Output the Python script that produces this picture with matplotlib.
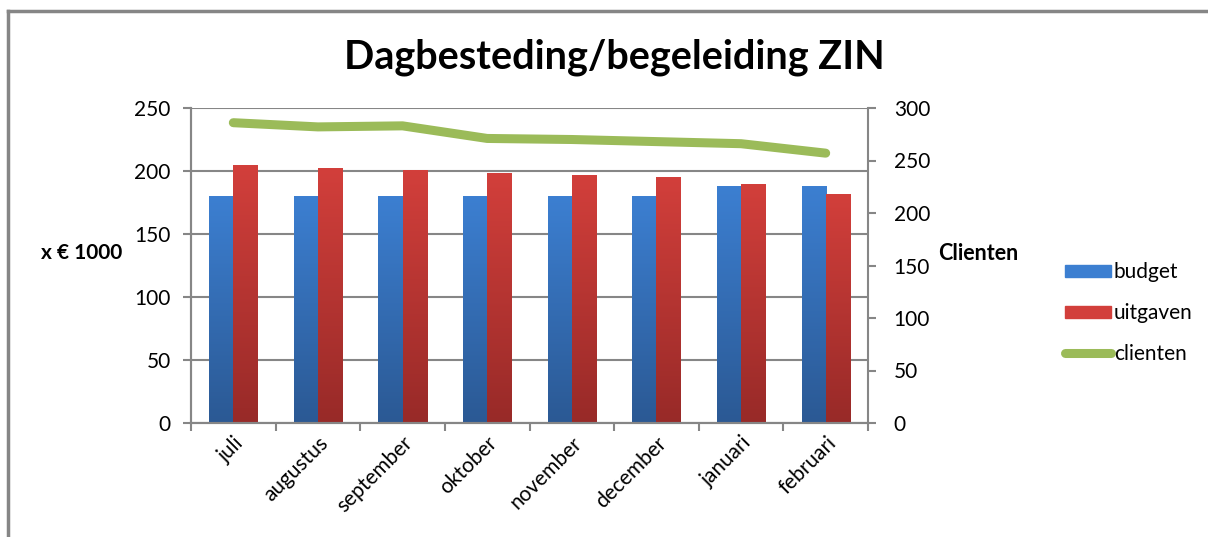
import matplotlib
matplotlib.use('Agg')
import matplotlib.pyplot as plt
from matplotlib.lines import Line2D
from matplotlib.colors import LinearSegmentedColormap
import numpy as np

plt.rcParams['font.family'] = ['Lato', 'DejaVu Sans']

# data
maanden = ['juli', 'augustus', 'september', 'oktober', 'november',
           'december', 'januari', 'februari']
budget = [180, 180, 180, 180, 180, 180, 188, 188]
uitgaven = [204, 202, 200.5, 198, 196.5, 194.5, 189, 181.5]
clienten = [286, 282, 283, 271, 270, 268, 266, 257]

grey = '#868686'
blue_top, blue_bot = '#3c7fd1', '#2b5994'
red_top, red_bot = '#d23f3b', '#982a28'

fig = plt.figure(figsize=(12.08, 5.37), dpi=100)
ax = fig.add_axes([191/1208, 1 - 423/537, 677/1208, 315/537])
ax2 = ax.twinx()

x = np.arange(len(maanden))
w = 0.285

def gradient_bars(xpos, vals, top, bot, label):
    bars = ax.bar(xpos, vals, w, color=top, label=label, zorder=2)
    cmap = LinearSegmentedColormap.from_list('g', [bot, top])
    grad = np.linspace(0, 1, 100).reshape(-1, 1)
    for b in bars:
        x0, y0 = b.get_x(), b.get_y()
        ax.imshow(grad, cmap=cmap, origin='lower', aspect='auto', zorder=2.5,
                  extent=[x0, x0 + b.get_width(), y0, y0 + b.get_height()])
    return bars

gradient_bars(x - w/2, budget, blue_top, blue_bot, 'budget')
gradient_bars(x + w/2, uitgaven, red_top, red_bot, 'uitgaven')

ax2.plot(x, clienten, color='#9bbb59', lw=6.5, solid_capstyle='round',
         solid_joinstyle='round', label='clienten', zorder=3)

# axes setup
ax.set_xlim(-0.5, len(maanden) - 0.5)
ax.set_ylim(0, 250)
ax.set_yticks(range(0, 251, 50))
ax2.set_ylim(0, 300)
ax2.set_yticks(range(0, 301, 50))
ax.set_xticks(np.arange(len(maanden) + 1) - 0.5)
ax.set_xticklabels([])
ax.set_xticks(x, minor=True)
ax.set_xticklabels(maanden, minor=True, rotation=45, ha='right',
                   rotation_mode='anchor', fontsize=15)
ax.tick_params(axis='x', which='minor', length=0, pad=7)
ax.tick_params(axis='x', which='major', length=5.5, color=grey, width=1.5)
ax.tick_params(axis='y', length=5.5, color=grey, width=1.5, labelsize=15, pad=9)
ax2.tick_params(axis='y', length=5.5, color=grey, width=1.5, labelsize=15, pad=13)
ax.grid(axis='y', color=grey, lw=1.5, zorder=0)
ax.set_axisbelow(True)

for a in (ax, ax2):
    for s in a.spines.values():
        s.set_color(grey)
        s.set_linewidth(1.5)
    a.spines['top'].set_visible(False)
    a.spines['right'].set_visible(a is ax2)

fig.text(82/1208, 1 - 253/537, 'x € 1000', fontsize=15, fontweight='bold',
         ha='center', va='center')
fig.text(978/1208, 1 - 253/537, 'Clienten', fontsize=15.5, fontweight='bold',
         ha='center', va='center')
fig.text(614/1208, 1 - 57/537, 'Dagbesteding/begeleiding ZIN', fontsize=28.5,
         fontweight='bold', ha='center', va='center')

# legend
handles = [plt.Rectangle((0, 0), 1, 1, color=blue_top),
           plt.Rectangle((0, 0), 1, 1, color=red_top),
           Line2D([0], [0], color='#9bbb59', lw=6.5, solid_capstyle='round')]
fig.legend(handles, ['budget', 'uitgaven', 'clienten'], frameon=False,
           loc='center left', bbox_to_anchor=(1046/1208, 1 - 313/537),
           fontsize=15, labelspacing=1.0, handlelength=2.2, handletextpad=0.15,
           handleheight=0.5)

# chart border
fig.add_artist(Line2D([8/1208, 8/1208], [0, 1 - 11/537], color=grey, lw=2.5))
fig.add_artist(Line2D([8/1208, 1], [1 - 11/537, 1 - 11/537], color=grey, lw=2.5))

plt.savefig('out.png', dpi=100)
